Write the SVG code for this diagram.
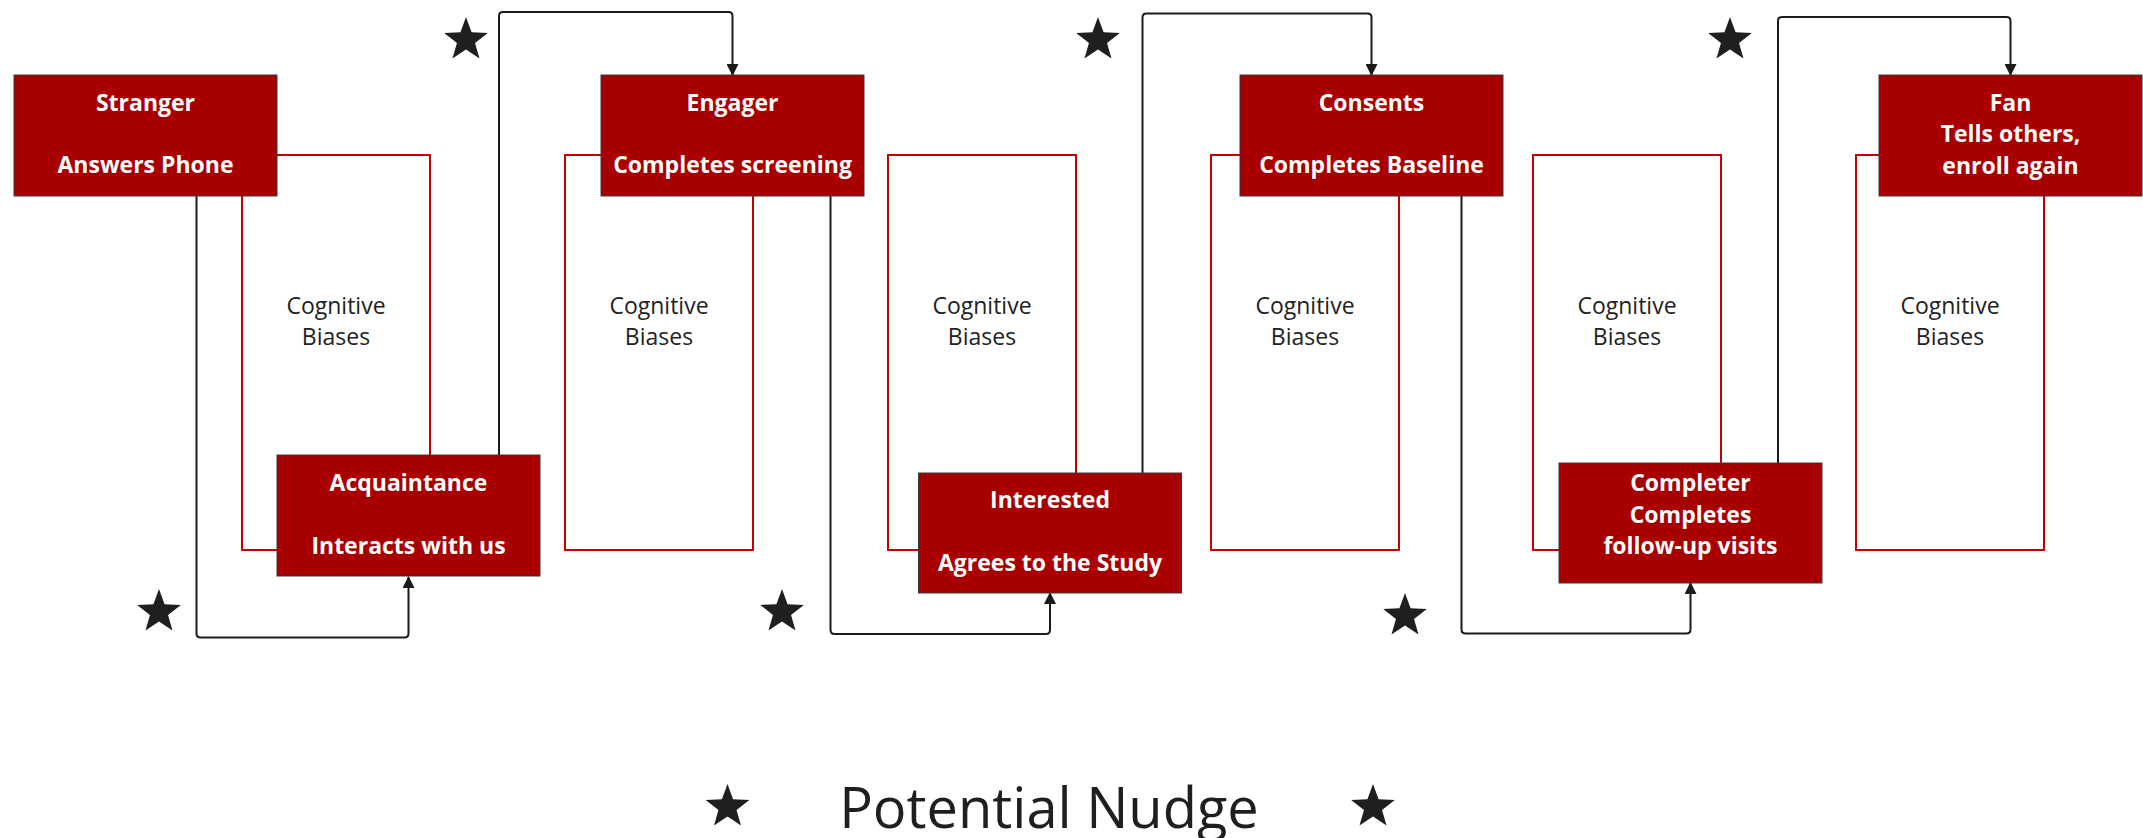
<svg xmlns="http://www.w3.org/2000/svg" xmlns:xlink="http://www.w3.org/1999/xlink" width="2143" height="838" viewBox="0 0 2143 838">
  <style>
    .bias { fill: none; stroke: #c40000; stroke-width: 2; }
    .bias-label { font-family: "Open Sans", "Liberation Sans", sans-serif; font-size: 23px; fill: #222; text-anchor: middle; }
    .stage { fill: #a80000; stroke: #3a3a3a; stroke-width: 1; }
    .stage-label { font-family: "Open Sans", "Liberation Sans", sans-serif; font-size: 23px; font-weight: 700; fill: #ffffff; text-anchor: middle; }
    .link { fill: none; stroke: #1b1b1b; stroke-width: 2; stroke-linejoin: round; marker-end: url(#arrow); }
    .nudge { fill: #1f1f1f; }
    .legend { font-family: "Open Sans", "Liberation Sans", sans-serif; font-size: 56px; fill: #1f1f1f; text-anchor: middle; }
  </style>
  <defs>
    <marker id="arrow" viewBox="0 0 12 12" refX="11" refY="6" markerWidth="12" markerHeight="12" markerUnits="userSpaceOnUse" orient="auto">
      <path d="M0,0 L12,6 L0,12 Z" fill="#1b1b1b"/>
    </marker>
    <polygon id="star" points="0,-23 5.58,-7.69 21.87,-7.11 9.04,2.94 13.52,18.61 0,9.5 -13.52,18.61 -9.04,2.94 -21.87,-7.11 -5.58,-7.69"/>
  </defs>

  <!-- cognitive bias frames (drawn first, stage boxes sit over their corners) -->
  <g id="biases">
    <g id="bias-1"><rect class="bias" x="242" y="155" width="188" height="395"/><text class="bias-label" x="336" y="313.5">Cognitive</text><text class="bias-label" x="336" y="345">Biases</text></g>
    <g id="bias-2"><rect class="bias" x="565" y="155" width="188" height="395"/><text class="bias-label" x="659" y="313.5">Cognitive</text><text class="bias-label" x="659" y="345">Biases</text></g>
    <g id="bias-3"><rect class="bias" x="888" y="155" width="188" height="395"/><text class="bias-label" x="982" y="313.5">Cognitive</text><text class="bias-label" x="982" y="345">Biases</text></g>
    <g id="bias-4"><rect class="bias" x="1211" y="155" width="188" height="395"/><text class="bias-label" x="1305" y="313.5">Cognitive</text><text class="bias-label" x="1305" y="345">Biases</text></g>
    <g id="bias-5"><rect class="bias" x="1533" y="155" width="188" height="395"/><text class="bias-label" x="1627" y="313.5">Cognitive</text><text class="bias-label" x="1627" y="345">Biases</text></g>
    <g id="bias-6"><rect class="bias" x="1856" y="155" width="188" height="395"/><text class="bias-label" x="1950" y="313.5">Cognitive</text><text class="bias-label" x="1950" y="345">Biases</text></g>
  </g>

  <!-- connectors between stages -->
  <g id="connectors">
    <path class="link" d="M196.5,196 V633.5 Q196.5,637.5 200.5,637.5 H404.5 Q408.5,637.5 408.5,633.5 V577"/>
    <path class="link" d="M499,455 V16 Q499,12 503,12 H728.5 Q732.5,12 732.5,16 V75"/>
    <path class="link" d="M830.5,196 V630 Q830.5,634 834.5,634 H1046 Q1050,634 1050,630 V593"/>
    <path class="link" d="M1142.5,473 V17.5 Q1142.5,13.5 1146.5,13.5 H1367.5 Q1371.5,13.5 1371.5,17.5 V75"/>
    <path class="link" d="M1461.5,196 V629.5 Q1461.5,633.5 1465.5,633.5 H1686.5 Q1690.5,633.5 1690.5,629.5 V583"/>
    <path class="link" d="M1778,463 V21 Q1778,17 1782,17 H2006.5 Q2010.5,17 2010.5,21 V75"/>
  </g>

  <!-- journey stages -->
  <g id="stranger"><rect class="stage" x="14" y="75" width="263" height="121"/><text class="stage-label" x="145.5" y="110.5">Stranger</text><text class="stage-label" x="145.5" y="173">Answers Phone</text></g>
  <g id="acquaintance"><rect class="stage" x="277" y="455" width="263" height="121"/><text class="stage-label" x="408.5" y="490.5">Acquaintance</text><text class="stage-label" x="408.5" y="553.5">Interacts with us</text></g>
  <g id="engager"><rect class="stage" x="601" y="75" width="263" height="121"/><text class="stage-label" x="732.5" y="110.5">Engager</text><text class="stage-label" x="732.5" y="173">Completes screening</text></g>
  <g id="interested"><rect class="stage" x="918.5" y="473" width="263" height="120"/><text class="stage-label" x="1050" y="508">Interested</text><text class="stage-label" x="1050" y="571">Agrees to the Study</text></g>
  <g id="consents"><rect class="stage" x="1240" y="75" width="263" height="121"/><text class="stage-label" x="1371.5" y="110.5">Consents</text><text class="stage-label" x="1371.5" y="173">Completes Baseline</text></g>
  <g id="completer"><rect class="stage" x="1559" y="463" width="263" height="120"/><text class="stage-label" x="1690.5" y="491">Completer</text><text class="stage-label" x="1690.5" y="522.5">Completes</text><text class="stage-label" x="1690.5" y="554">follow-up visits</text></g>
  <g id="fan"><rect class="stage" x="1879" y="75" width="263" height="121"/><text class="stage-label" x="2010.5" y="110.5">Fan</text><text class="stage-label" x="2010.5" y="142">Tells others,</text><text class="stage-label" x="2010.5" y="173.5">enroll again</text></g>

  <!-- nudge markers -->
  <g id="nudges" class="nudge">
    <use xlink:href="#star" href="#star" x="159" y="612"/>
    <use xlink:href="#star" href="#star" x="466" y="40"/>
    <use xlink:href="#star" href="#star" x="782" y="612"/>
    <use xlink:href="#star" href="#star" x="1098" y="40"/>
    <use xlink:href="#star" href="#star" x="1405" y="616"/>
    <use xlink:href="#star" href="#star" x="1730" y="40"/>
  </g>

  <!-- legend -->
  <g id="legend">
    <use class="nudge" xlink:href="#star" href="#star" x="727.5" y="807"/>
    <text class="legend" x="1049" y="828">Potential Nudge</text>
    <use class="nudge" xlink:href="#star" href="#star" x="1373" y="807"/>
  </g>
</svg>
